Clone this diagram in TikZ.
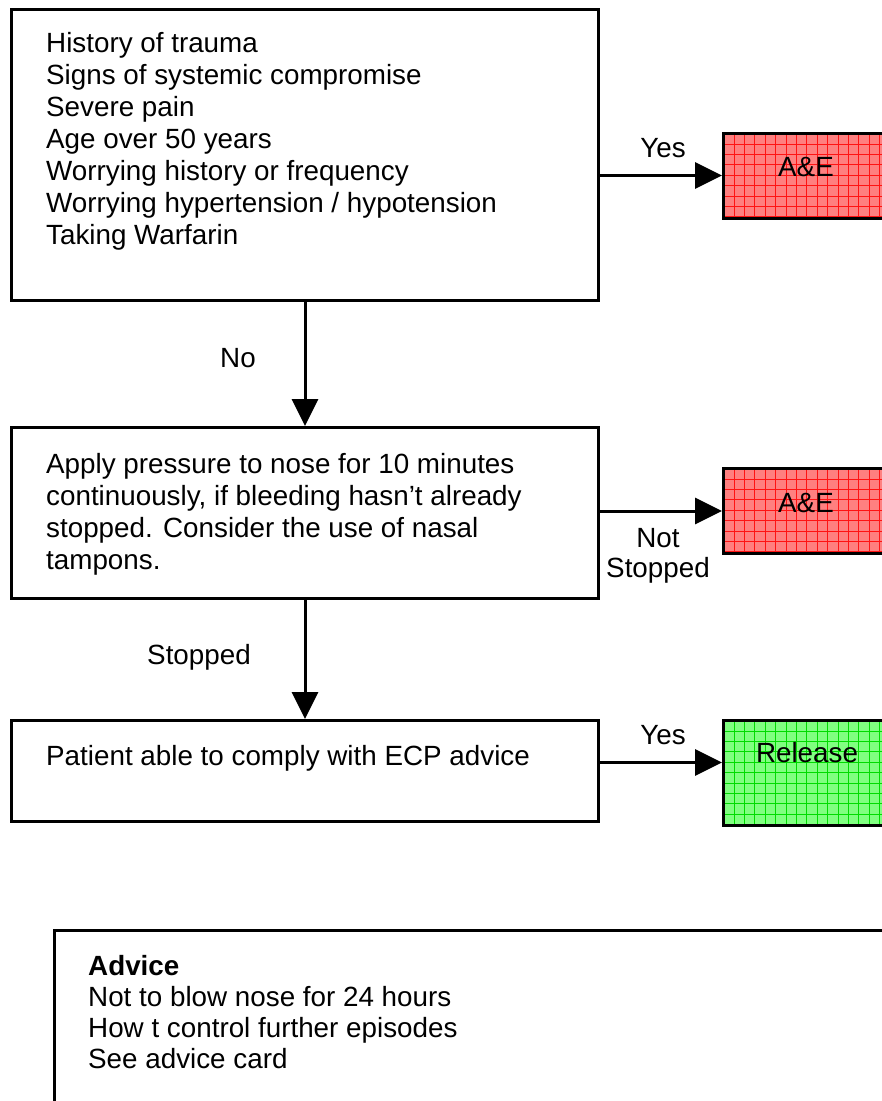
\documentclass[tikz,border=0pt]{standalone}
\usepackage{fontspec}
\setmainfont{Liberation Sans}
\usetikzlibrary{arrows.meta}
\definecolor{redfill}{RGB}{255,128,128}
\definecolor{redgrid}{RGB}{255,20,20}
\definecolor{greenfill}{RGB}{128,255,128}
\definecolor{greengrid}{RGB}{0,220,0}
\newcommand\fs{\fontsize{27.8pt}{32pt}\selectfont}
\begin{document}
\begin{tikzpicture}[x=1pt,y=-1pt,
  box/.style={draw, line width=3pt, inner sep=0pt, anchor=north west},
  txt/.style={anchor=base west, inner sep=0pt, font=\fs},
  lbl/.style={inner sep=0pt, font=\fs},
  conn/.style={line width=3pt, -{Triangle[length=27pt,width=26pt]}},
  gridded/.style n args={2}{box, fill=#1, path picture={
     \foreach \i in {1,...,17}{\draw[#2, line width=0.7pt]
        ([xshift=\i*10.4pt]path picture bounding box.south west) --
        ([xshift=\i*10.4pt]path picture bounding box.north west);}
     \foreach \j in {1,...,10}{\draw[#2, line width=0.7pt]
        ([yshift=-\j*10.4pt]path picture bounding box.north west) --
        ([yshift=-\j*10.4pt]path picture bounding box.north east);}
  }}]
\useasboundingbox (0,0) rectangle (882,1101);
\clip (0,0) rectangle (882,1101);

% main boxes
\node[box, minimum width=587pt, minimum height=291pt] (b1) at (10,8) {};
\node[box, minimum width=587pt, minimum height=171pt] (b2) at (10,426) {};
\node[box, minimum width=587pt, minimum height=101pt] (b3) at (10,719) {};
\node[box, minimum width=900pt, minimum height=250pt] (adv) at (53,929) {};

% outcome boxes
\node[gridded={redfill}{redgrid}, minimum width=168pt, minimum height=85pt] (ae1) at (722,132) {};
\node[gridded={redfill}{redgrid}, minimum width=168pt, minimum height=85pt] (ae2) at (722,467) {};
\node[gridded={greenfill}{greengrid}, minimum width=168pt, minimum height=105pt] (rel) at (722,719) {};

% texts
\node[txt] (t1) at (46,52) {\parbox[t]{540pt}{\fs History of trauma\\Signs of systemic compromise\\Severe pain\\Age over 50 years\\Worrying history or frequency\\Worrying hypertension / hypotension\\Taking Warfarin}};
\node[txt] (t2) at (46,473) {\parbox[t]{540pt}{\fs Apply pressure to nose for 10 minutes\\continuously, if bleeding hasn’t already\\stopped. Consider the use of nasal\\tampons.}};
\node[txt] (t3) at (46,765) {Patient able to comply with ECP advice};
\node[txt] (t4) at (88,975) {\parbox[t]{700pt}{\fontsize{27.8pt}{31pt}\selectfont\textbf{Advice}\\Not to blow nose for 24 hours\\How t control further episodes\\See advice card}};

\node[lbl] (l1) at (806,167) {A\&E};
\node[lbl] (l2) at (806,503) {A\&E};
\node[lbl] (l3) at (807,753) {Release};

% connectors
\draw[conn] ([yshift=0.5pt]ae1.west -| b1.east) -- ([yshift=0.5pt]ae1.west);
\draw[conn] (b1.south) -- (b2.north);
\draw[conn] (ae2.west -| b2.east) -- (ae2.west);
\draw[conn] (b2.south) -- (b3.north);
\draw[conn] ([yshift=10.5pt]rel.west -| b3.east) -- ([yshift=10.5pt]rel.west);

% connector labels
\node[lbl] (y1) at (663,148) {Yes};
\node[lbl] (n1) at (238,358) {No};
\node[anchor=base, inner sep=0pt] (ns) at (658,547) {\parbox[t]{140pt}{\centering\fontsize{27.8pt}{30pt}\selectfont Not\\Stopped}};
\node[lbl] (s1) at (199,657) {Stopped};
\node[lbl] (y2) at (663,735) {Yes};
\end{tikzpicture}
\end{document}
